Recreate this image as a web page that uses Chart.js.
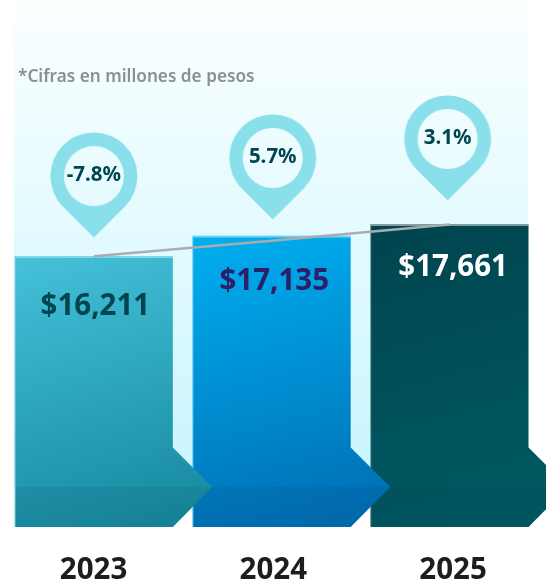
<!DOCTYPE html>
<html><head><meta charset="utf-8">
<style>html,body{margin:0;padding:0;background:#fff}canvas{display:block}</style>
<script src="https://cdn.jsdelivr.net/npm/chart.js@4"></script>
</head><body>
<canvas id="c" width="546" height="582"></canvas>
<script>
const categories = ["2023", "2024", "2025"];
const tickYears = [2023, 2024, 2025];
const barValues = [16211, 17135, 17661];
const barLabels = ["$16,211", "$17,135", "$17,661"];
const trendValues = [16250, 16950, 17680];
const pinValues = [19880, 20696, 21557];
const pinLabels = ["-7.8%", "5.7%", "3.1%"];
const noteText = "*Cifras en millones de pesos";

const FONT = '"Noto Sans", sans-serif';
const stops = [
  ["#43bfd8", "#178a9f"],
  ["#00adee", "#006fb5"],
  ["#00454f", "#005a63"]
];
const edgeColors = ["#7ed6e8", "#6fd0f2", "#7f9fa5"];
const labelColors = ["#00454f", "#2e2068", "#ffffff"];
const labelDrop = [50, 44.5, 42.5];
const labelShift = [1.5, 2.5, 3.5];
const pinShift = [0, 1, -2];
const BAND = "rgba(0,30,50,0.07)";
const ARROW_LEN = 39.5, ARROW_HALF = 39.5, SEAM = 2;
const yScale = { min: 3980, max: 3980 + 527 * 45.3 };

function pinCanvas(dx) {
  const c = document.createElement("canvas");
  c.width = 100; c.height = 126;
  const g = c.getContext("2d");
  const cx = 50 + dx, cy = 63, r = 43.5, d = 61.5;
  const t = Math.acos(r / d);
  g.fillStyle = "#8ae0ea";
  g.beginPath();
  g.moveTo(cx, cy + d);
  g.arc(cx, cy, r, Math.PI / 2 + t, Math.PI / 2 - t);
  g.closePath();
  g.moveTo(cx + 30, cy);
  g.arc(cx, cy, 30, 0, Math.PI * 2);
  g.fill("evenodd");
  return c;
}

function barGradient(chart, i, bar) {
  const g = chart.ctx.createLinearGradient(bar.x - 40, bar.y, bar.x + 40, bar.base);
  g.addColorStop(0, stops[i][0]);
  g.addColorStop(1, stops[i][1]);
  return g;
}

const decorate = {
  id: "decorate",
  beforeDraw(chart) {
    const { ctx } = chart;
    const g = ctx.createLinearGradient(0, 0, 0, 487);
    g.addColorStop(0, "#fbffff");
    g.addColorStop(1, "#c9f5ff");
    ctx.save();
    ctx.fillStyle = g;
    ctx.fillRect(14, 0, 514, 487);
    ctx.fillStyle = "#8b8f92";
    ctx.font = "600 17.2px " + FONT;
    ctx.textAlign = "left";
    ctx.textBaseline = "middle";
    ctx.fillText(noteText, 18, 77);
    ctx.restore();
  },
  beforeDatasetDraw(chart, args) {
    if (args.index !== 1) return;
    const { ctx } = chart;
    const meta = chart.getDatasetMeta(0);
    ctx.save();
    meta.data.forEach((bar, i) => {
      const left = bar.x - bar.width / 2;
      const mid = bar.base - ARROW_HALF - 0.5;
      ctx.fillStyle = BAND;
      ctx.fillRect(left, mid, bar.width - SEAM, bar.base - mid);
      ctx.fillStyle = edgeColors[i];
      ctx.fillRect(left, bar.y - 1, bar.width, 2);
      ctx.fillRect(left - 0.5, bar.y - 1, 1, bar.base - bar.y + 1);
      ctx.fillStyle = labelColors[i];
      ctx.font = "700 29.5px " + FONT;
      ctx.textAlign = "center";
      ctx.textBaseline = "middle";
      ctx.fillText(barLabels[i], bar.x + labelShift[i], bar.y + labelDrop[i]);
    });
    meta.data.forEach((bar, i) => {
      const right = bar.x + bar.width / 2;
      const mid = bar.base - ARROW_HALF - 0.5;
      ctx.fillStyle = barGradient(chart, i, bar);
      ctx.beginPath();
      ctx.moveTo(right - SEAM, mid - ARROW_HALF);
      ctx.lineTo(right, mid - ARROW_HALF);
      ctx.lineTo(right + ARROW_LEN, mid);
      ctx.lineTo(right, bar.base);
      ctx.lineTo(right - SEAM, bar.base);
      ctx.closePath();
      ctx.fill();
      ctx.fillStyle = BAND;
      ctx.beginPath();
      ctx.moveTo(right - SEAM, mid);
      ctx.lineTo(right + ARROW_LEN, mid);
      ctx.lineTo(right, bar.base);
      ctx.lineTo(right - SEAM, bar.base);
      ctx.closePath();
      ctx.fill();
    });
    ctx.restore();
  },
  afterDatasetsDraw(chart) {
    const { ctx } = chart;
    const meta = chart.getDatasetMeta(2);
    ctx.save();
    ctx.fillStyle = "#00454f";
    ctx.font = "700 20.5px " + FONT;
    ctx.textAlign = "center";
    ctx.textBaseline = "middle";
    meta.data.forEach((p, i) => ctx.fillText(pinLabels[i], p.x + pinShift[i], p.y - 1));
    ctx.restore();
  }
};

new Chart(document.getElementById("c"), {
  data: {
    labels: categories,
    datasets: [
      {
        type: "bar",
        data: barValues,
        base: yScale.min,
        order: 3,
        barPercentage: 1,
        categoryPercentage: 158 / 178,
        backgroundColor(ctx) {
          const i = ctx.dataIndex;
          if (!ctx.chart.chartArea || i === undefined) return stops[0][0];
          const yTop = ctx.chart.scales.y.getPixelForValue(barValues[i]);
          const yBase = ctx.chart.chartArea.bottom;
          const xc = ctx.chart.scales.x.getPixelForValue(i);
          return barGradient(ctx.chart, i, { x: xc, y: yTop, base: yBase });
        },
        borderWidth: 0
      },
      {
        type: "line",
        data: trendValues,
        order: 2,
        borderColor: "#a9adae",
        borderWidth: 2.5,
        pointRadius: 0,
        tension: 0,
        fill: false,
        clip: false
      },
      {
        type: "line",
        data: pinValues,
        order: 1,
        showLine: false,
        pointStyle: pinShift.map(pinCanvas),
        pointRadius: 40,
        pointHoverRadius: 40,
        clip: false
      }
    ]
  },
  options: {
    responsive: false,
    animation: false,
    devicePixelRatio: 1,
    layout: { autoPadding: false, padding: { left: 5, right: 7.5, top: 0, bottom: 0 } },
    plugins: { legend: { display: false }, tooltip: { enabled: false }, title: { display: false } },
    scales: {
      x: { display: false, offset: true, grid: { display: false } },
      years: {
        type: "linear",
        axis: "x",
        position: "bottom",
        min: 2022.5076,
        max: 2025.4756,
        grid: { display: false, drawTicks: false },
        border: { display: false },
        afterBuildTicks(s) { s.ticks = tickYears.map(v => ({ value: v })); },
        afterFit(s) { s.height = 55; s.paddingLeft = 0; s.paddingRight = 0; s.paddingTop = 0; s.paddingBottom = 0; },
        ticks: {
          callback: v => String(v),
          maxRotation: 0,
          autoSkip: false,
          padding: 26,
          color: "#1d1d1b",
          font: { family: FONT, weight: "700", size: 29.5 }
        }
      },
      y: { display: false, min: yScale.min, max: yScale.max, grid: { display: false } }
    }
  },
  plugins: [decorate]
});
</script>
</body></html>
